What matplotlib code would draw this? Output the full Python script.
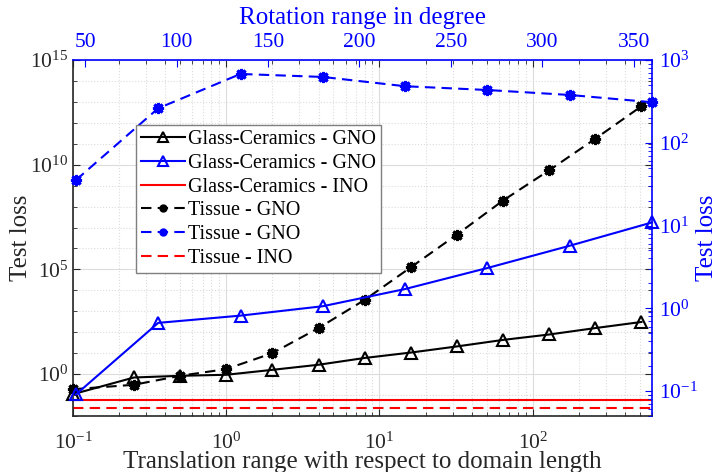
import matplotlib
matplotlib.use("Agg")
import matplotlib.pyplot as plt
from matplotlib.ticker import FixedLocator, LogLocator, NullFormatter, LogFormatterMathtext, MultipleLocator
from matplotlib.lines import Line2D

plt.rcParams['font.family'] = ['Liberation Serif', 'DejaVu Serif']
plt.rcParams['mathtext.fontset'] = 'custom'
plt.rcParams['mathtext.rm'] = 'Liberation Serif'
plt.rcParams['mathtext.it'] = 'Liberation Serif:italic'
plt.rcParams['axes.unicode_minus'] = False

# translation range (bottom / left axes)
translation = [0.1, 0.25, 0.5, 1, 2, 4, 8, 16, 32, 64, 128, 256, 512]
gc_gno_trans = [0.11, 0.69, 0.83, 0.93, 1.6, 2.8, 5.9, 10.7, 21, 43, 78, 158, 309]
tissue_gno_trans = [0.19, 0.31, 0.83, 1.74, 10, 158, 3.5e3, 1.26e5, 4.6e6,
                    1.95e8, 5.4e9, 1.74e11, 6.2e12]
gc_ino = 0.057
tissue_ino = 0.0236

# rotation range (top / right axes)
rotation = [45, 90, 135, 180, 225, 270, 315, 360]
gc_gno_rot = [0.091, 0.667, 0.816, 1.06, 1.71, 3.07, 5.7, 10.9]
tissue_gno_rot = [35.4, 261, 678, 624, 482, 434, 378, 309]

dark = '#262626'
blue = '#0000ff'
red = '#ff0000'
dash = (0, (5, 3))

fig = plt.figure(figsize=(7.17, 4.72), dpi=100)
pos = [73 / 717, 1 - 416 / 472, 579 / 717, 356 / 472]
ax = fig.add_axes(pos)
ax2 = fig.add_axes(pos, frameon=False)

# main axes: translation
ax.plot(translation, gc_gno_trans, color='k', lw=1.5, marker='^', ms=9,
        mfc='none', mec='k', mew=1.5, clip_on=False, zorder=3)
ax.plot(translation, tissue_gno_trans, color='k', lw=1.5, ls=dash, marker=(8, 2, 0),
        ms=8, mew=2.2, clip_on=False, zorder=3)
ax.axhline(gc_ino, color=red, lw=1.5)
ax.axhline(tissue_ino, color=red, lw=1.5, ls=dash)

ax.set_xscale('log')
ax.set_yscale('log')
ax.set_xlim(0.1, 600)
ax.set_ylim(1e-2, 1e15)
ax.yaxis.set_major_locator(FixedLocator([1e0, 1e5, 1e10, 1e15]))
ax.yaxis.set_minor_locator(FixedLocator([10.0 ** k for k in range(-2, 16)]))
ax.yaxis.set_major_formatter(LogFormatterMathtext())
ax.yaxis.set_minor_formatter(NullFormatter())
ax.xaxis.set_major_locator(LogLocator(base=10, numticks=10))
ax.xaxis.set_minor_locator(LogLocator(base=10, subs=range(2, 10), numticks=20))
ax.xaxis.set_minor_formatter(NullFormatter())
ax.tick_params(which='both', direction='in', top=True, right=True, colors=dark,
               labelsize=15.5)
ax.tick_params(axis='x', pad=12)
ax.tick_params(which='major', length=5)
ax.tick_params(which='minor', length=3)
ax.grid(which='major', color='#dcdcdc', lw=0.8)
ax.grid(which='minor', color='#dcdcdc', lw=0.8, ls=':')
ax.set_xlabel('Translation range with respect to domain length', fontsize=18,
              color=dark)
ax.xaxis.set_label_coords(0.5, -0.099)
ax.set_ylabel('Test loss', fontsize=18, color=dark)
ax.yaxis.set_label_coords(-0.07, 0.5)
ax.spines['top'].set_color(blue)
ax.spines['right'].set_color(blue)
for s in ax.spines.values():
    s.set_linewidth(1.2)
ax.spines['left'].set_color(dark)
ax.spines['bottom'].set_color(dark)

# twin axes: rotation
ax2.plot(rotation, gc_gno_rot, color=blue, lw=1.5, marker='^', ms=9,
         mfc='none', mec=blue, mew=1.5, clip_on=False, zorder=3)
ax2.plot(rotation, tissue_gno_rot, color=blue, lw=1.5, ls=dash, marker=(8, 2, 0),
         ms=8, mew=2.2, clip_on=False, zorder=3)
ax2.set_yscale('log')
ax2.set_xlim(43.4, 360)
ax2.set_ylim(0.05, 1000)
ax2.xaxis.tick_top()
ax2.xaxis.set_label_position('top')
ax2.yaxis.tick_right()
ax2.yaxis.set_label_position('right')
ax2.xaxis.set_major_locator(MultipleLocator(50))
ax2.yaxis.set_major_formatter(LogFormatterMathtext())
ax2.yaxis.set_minor_formatter(NullFormatter())
ax2.tick_params(which='both', direction='in', colors=blue, labelsize=15.5)
ax2.tick_params(axis='x', pad=6)
ax2.tick_params(axis='y', pad=5)
ax2.tick_params(which='major', length=5)
ax2.tick_params(which='minor', length=3)
ax2.set_xlabel('Rotation range in degree', fontsize=18, color=blue)
ax2.xaxis.set_label_coords(0.5, 1.101)
ax2.set_ylabel('Test loss', fontsize=18, color=blue)
ax2.yaxis.set_label_coords(1.076, 0.5)

handles = [
    Line2D([], [], color='k', lw=1.5, marker='^', ms=7, mfc='none', mew=1.5),
    Line2D([], [], color=blue, lw=1.5, marker='^', ms=7, mfc='none', mew=1.5),
    Line2D([], [], color=red, lw=1.5),
    Line2D([], [], color='k', lw=1.5, ls=dash, marker='o', ms=5),
    Line2D([], [], color=blue, lw=1.5, ls=dash, marker='o', ms=5),
    Line2D([], [], color=red, lw=1.5, ls=dash),
]
labels = ['Glass-Ceramics - GNO', 'Glass-Ceramics - GNO', 'Glass-Ceramics - INO',
          'Tissue - GNO', 'Tissue - GNO', 'Tissue - INO']
leg = ax2.legend(handles, labels, loc='upper left',
                 bbox_to_anchor=(136 / 717, 1 - 125 / 472),
                 bbox_transform=fig.transFigure, fontsize=14.5, frameon=True,
                 fancybox=False, edgecolor='#7f7f7f', framealpha=1,
                 handlelength=2.2, handletextpad=0.15, labelspacing=0.23,
                 borderpad=0.25, borderaxespad=0)
leg.get_frame().set_linewidth(1.0)

fig.savefig('out.png', dpi=100)
